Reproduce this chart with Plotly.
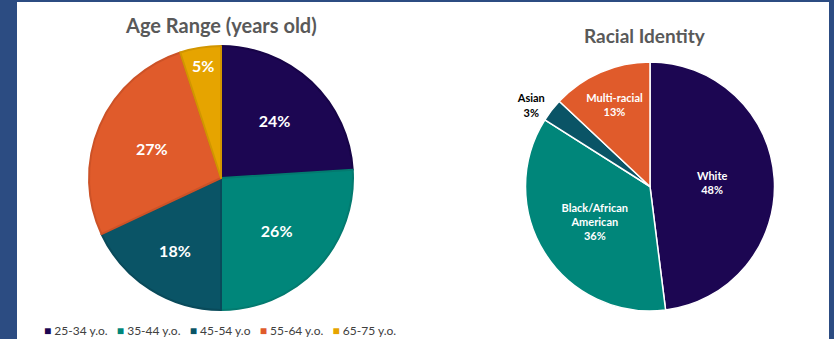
import plotly.graph_objects as go

# ---- data ----
age_labels = ["25-34 y.o.", "35-44 y.o.", "45-54 y.o", "55-64 y.o.", "65-75 y.o."]
age_values = [24, 26, 18, 27, 5]

race_labels = ["White", "Black/African<br>American", "Asian", "Multi-racial"]
race_values = [48, 36, 3, 13]

# ---- styles ----
age_colors = ["#1c0652", "#00867a", "#0a5466", "#e05b2b", "#e6a400"]
age_edges = ["#170447", "#037a6f", "#094a5a", "#cc5227", "#d19500"]
race_colors = ["#1c0652", "#00867a", "#0a5466", "#e05b2b"]
font_family = "Lato, 'Open Sans', sans-serif"

fig = go.Figure()

fig.add_trace(go.Pie(
    labels=age_labels, values=age_values, sort=False, direction="clockwise",
    rotation=0,
    marker=dict(colors=age_colors, line=dict(color=age_edges, width=2)),
    texttemplate="<b>%{value}%</b>", textposition="inside",
    insidetextorientation="horizontal",
    textfont=dict(family=font_family, size=16, color="white"),
    domain=dict(x=[89/834, 353/834], y=[1-311/339, 1-45/339]),
    hoverinfo="label+percent", showlegend=False, name="Age",
))

race_textpos = ["inside", "inside", "outside", "inside"]
race_textcol = ["white", "white", "black", "white"]
fig.add_trace(go.Pie(
    labels=race_labels, values=race_values, sort=False, direction="clockwise",
    rotation=0,
    marker=dict(colors=race_colors, line=dict(color="white", width=1.5)),
    texttemplate="<b>%{label}<br>%{value}%</b>", textposition=race_textpos,
    insidetextorientation="horizontal",
    textfont=dict(family=font_family, size=11, color=race_textcol),
    domain=dict(x=[524/834, 776/834], y=[1-311/339, 1-62/339]),
    hoverinfo="label+percent", showlegend=False, name="Race",
))

# legend drawn as one text line built from the category list
gap = "\u00a0" * 3
legend_text = gap.join(
    f"<span style='color:{c}'>■</span>\u00a0{lab}"
    for c, lab in zip(age_colors, age_labels)
)

fig.update_layout(
    width=834, height=339,
    margin=dict(l=0, r=0, t=0, b=0),
    paper_bgcolor="#2c4c82",
    plot_bgcolor="white",
    font=dict(family=font_family, color="#404040"),
    showlegend=False,
    shapes=[dict(type="rect", xref="paper", yref="paper",
                 x0=17/834, x1=829/834, y0=0, y1=1-2/339,
                 fillcolor="white", line=dict(width=0), layer="below")],
    annotations=[
        dict(text="<b>Age Range (years old)</b>", x=221/834, y=1-25/339,
             xref="paper", yref="paper", showarrow=False,
             font=dict(size=20, color="#595959", family=font_family),
             xanchor="center", yanchor="middle"),
        dict(text="<b>Racial Identity</b>", x=645/834, y=1-36/339,
             xref="paper", yref="paper", showarrow=False,
             font=dict(size=19, color="#595959", family=font_family),
             xanchor="center", yanchor="middle"),
        dict(text=legend_text, x=42/834, y=1-330/339,
             xref="paper", yref="paper", showarrow=False,
             font=dict(size=12, color="#404040", family=font_family),
             xanchor="left", yanchor="middle"),
    ],
)

fig.write_html("out.html")
